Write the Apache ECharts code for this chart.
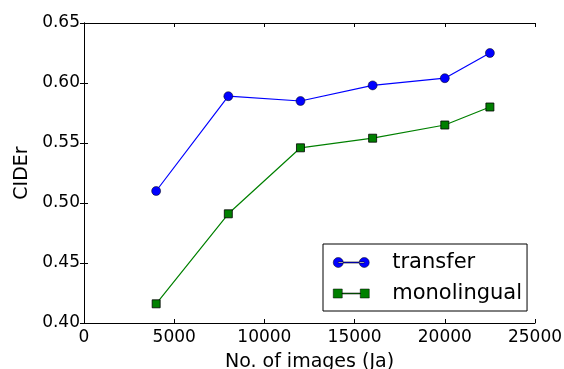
<!DOCTYPE html>
<html><head><meta charset="utf-8">
<script src="https://cdn.jsdelivr.net/npm/echarts@6/dist/echarts.min.js"></script>
<style>html,body{margin:0;padding:0;background:#fff}#c{width:564px;height:369px}</style>
</head><body><div id="c"></div>
<script>
const xValues = [4000, 8000, 12000, 16000, 20000, 22500];
const transfer = [0.510, 0.589, 0.585, 0.598, 0.604, 0.625];
const monolingual = [0.416, 0.491, 0.546, 0.554, 0.565, 0.580];
const xTicks = [0, 5000, 10000, 15000, 20000, 25000];
const yTicks = [0.40, 0.45, 0.50, 0.55, 0.60, 0.65];

const F = 'DejaVu Sans';
const iconPath = 'path://M0,5a5,5 0 1,0 10,0a5,5 0 1,0 -10,0Z M26,5a5,5 0 1,0 10,0a5,5 0 1,0 -10,0Z M5,4.4L31,4.4L31,5.6L5,5.6Z';
const sqPath = 'path://M0,0L9,0L9,9L0,9Z M27,0L36,0L36,9L27,9Z M9,4L27,4L27,5L9,5Z';

const chart = echarts.init(document.getElementById('c'));
const tickCommon = {inside: true, length: 4, lineStyle: {color: '#000', width: 1}};
chart.setOption({
  animation: false,
  grid: {left: 84, right: 29, top: 23, bottom: 46, containLabel: false, outerBoundsMode: 'none'},
  xAxis: [{
    type: 'value', min: xTicks[0], max: xTicks[xTicks.length-1], interval: 5000,
    name: 'No. of images (Ja)', nameLocation: 'middle', nameGap: 30,
    nameTextStyle: {fontFamily: F, fontSize: 19, color: '#000'},
    axisLine: {lineStyle: {color: '#000', width: 1}},
    axisTick: tickCommon, splitLine: {show: false},
    axisLabel: {fontFamily: F, fontSize: 17, color: '#000', margin: 6, formatter: v => String(v), hideOverlap: false}
  }, {
    type: 'value', position: 'top', min: xTicks[0], max: xTicks[xTicks.length-1], interval: 5000,
    axisLine: {lineStyle: {color: '#000', width: 1}},
    axisTick: tickCommon, splitLine: {show: false}, axisLabel: {show: false}
  }],
  yAxis: [{
    type: 'value', min: yTicks[0], max: yTicks[yTicks.length-1], interval: 0.05,
    name: 'CIDEr', nameLocation: 'middle', nameGap: 49,
    nameTextStyle: {fontFamily: F, fontSize: 19, color: '#000'},
    axisLine: {show: true, lineStyle: {color: '#000', width: 1}},
    axisTick: {show: true, ...tickCommon}, splitLine: {show: false},
    axisLabel: {fontFamily: F, fontSize: 17, color: '#000', margin: 4, formatter: v => v.toFixed(2)}
  }, {
    type: 'value', position: 'right', min: yTicks[0], max: yTicks[yTicks.length-1], interval: 0.05,
    axisLine: {show: true, lineStyle: {color: '#000', width: 1}},
    axisTick: {show: true, ...tickCommon}, splitLine: {show: false}, axisLabel: {show: false}
  }],
  legend: {
    orient: 'vertical', left: 323, top: 244,
    backgroundColor: '#fff', borderColor: '#000', borderWidth: 1, borderRadius: 0,
    padding: [8, 5, 7, 10], itemGap: 10, itemWidth: 36, itemHeight: 10,
    textStyle: {fontFamily: F, fontSize: 21, color: '#000', lineHeight: 21, padding: [0, 0, 0, 18]},
    data: [
      {name: 'transfer', icon: iconPath, itemStyle: {color: '#0000ff', borderColor: '#000', borderWidth: 0.5}},
      {name: 'monolingual', icon: sqPath, itemStyle: {color: '#008000', borderColor: '#000', borderWidth: 0.5}}
    ]
  },
  series: [{
    name: 'transfer', type: 'line', xAxisIndex: 0, yAxisIndex: 0,
    data: xValues.map((x, i) => [x, transfer[i]]),
    symbol: 'circle', symbolSize: 9,
    lineStyle: {color: '#0000ff', width: 1.2},
    itemStyle: {color: '#0000ff', borderColor: '#000', borderWidth: 0.5}
  }, {
    name: 'monolingual', type: 'line', xAxisIndex: 0, yAxisIndex: 0,
    data: xValues.map((x, i) => [x, monolingual[i]]),
    symbol: 'rect', symbolSize: 8,
    lineStyle: {color: '#008000', width: 1.2},
    itemStyle: {color: '#008000', borderColor: '#000', borderWidth: 0.8}
  }]
});
</script></body></html>
